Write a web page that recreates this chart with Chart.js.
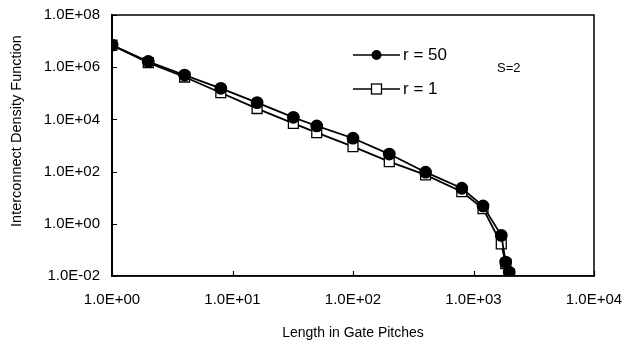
<!DOCTYPE html>
<html>
<head>
<meta charset="utf-8">
<script src="https://cdn.jsdelivr.net/npm/chart.js@4.4.1/dist/chart.umd.min.js"></script>
<style>
html,body{margin:0;padding:0;background:#fff;}
#wrap{width:628px;height:344px;position:relative;}
</style>
</head>
<body>
<div id="wrap"><canvas id="c" width="628" height="344"></canvas></div>
<script>
const lengths = [1, 2, 4, 8, 16, 32, 50, 100, 200, 400, 800, 1200, 1700, 1850, 1980];
const r50 = [7e6, 1.65e6, 5e5, 1.55e5, 4.4e4, 1.2e4, 5.6e3, 1.9e3, 470, 95, 23, 4.8, 0.36, 0.034, 0.014];
const r1  = [7e6, 1.5e6, 4.2e5, 1.05e5, 2.6e4, 7e3, 3.1e3, 900, 240, 75, 17, 3.8, 0.17, 0.03, 0.012];
const seriesLabels = ['r = 50', 'r = 1'];
const xTickValues = [1, 10, 100, 1000, 10000];
const yTickValues = [1e-2, 1, 1e2, 1e4, 1e6, 1e8];
const xTitle = 'Length in Gate Pitches';
const yTitle = 'Interconnect Density Function';
const note = 'S=2';

function fmt(v){
  const e = Math.round(Math.log10(v));
  const s = e < 0 ? '-' : '+';
  const a = Math.abs(e);
  return '1.0E' + s + (a < 10 ? '0' + a : a);
}

const FONT = '"Liberation Sans", Arial, sans-serif';

const decor = {
  id: 'decor',
  afterDraw(chart){
    const ctx = chart.ctx, a = chart.chartArea;
    const xs = chart.scales.x, ys = chart.scales.y;
    ctx.save();
    ctx.strokeStyle = '#000';
    ctx.lineWidth = 1.5;
    ctx.strokeRect(a.left, a.top, a.right - a.left, a.bottom - a.top);
    ctx.lineWidth = 1.2;
    ctx.beginPath();
    xTickValues.forEach(v => {
      const px = Math.round(xs.getPixelForValue(v)) + 0.5;
      ctx.moveTo(px, a.bottom); ctx.lineTo(px, a.bottom - 5);
    });
    yTickValues.forEach(v => {
      const py = Math.round(ys.getPixelForValue(v)) + 0.5;
      ctx.moveTo(a.left, py); ctx.lineTo(a.left + 5, py);
    });
    ctx.stroke();

    // y axis title
    ctx.save();
    ctx.translate(17, 131);
    ctx.rotate(-Math.PI / 2);
    ctx.fillStyle = '#000';
    ctx.font = '14.5px ' + FONT;
    ctx.textAlign = 'center';
    ctx.textBaseline = 'middle';
    ctx.fillText(yTitle, 0, 0);
    ctx.restore();

    // legend
    const lx = 353, lw = 47;
    const rows = [55, 89];
    chart.data.datasets.forEach((ds, i) => {
      const y = rows[i];
      ctx.strokeStyle = '#000';
      ctx.lineWidth = 1.6;
      ctx.beginPath(); ctx.moveTo(lx, y); ctx.lineTo(lx + lw, y); ctx.stroke();
      const cx = lx + lw / 2;
      if (ds.pointStyle === 'circle') {
        ctx.fillStyle = '#000';
        ctx.beginPath(); ctx.arc(cx, y, 5, 0, Math.PI * 2); ctx.fill();
      } else {
        ctx.fillStyle = '#fff';
        ctx.fillRect(cx - 5, y - 5, 10, 10);
        ctx.lineWidth = 1.3;
        ctx.strokeRect(cx - 5, y - 5, 10, 10);
      }
      ctx.fillStyle = '#000';
      ctx.font = '17px ' + FONT;
      ctx.textBaseline = 'middle';
      ctx.textAlign = 'left';
      ctx.fillText(ds.label, lx + lw + 3, y);
    });
    ctx.font = '13px ' + FONT;
    ctx.textBaseline = 'middle';
    ctx.fillText(note, 497, 68);
    ctx.restore();
  }
};

new Chart(document.getElementById('c'), {
  type: 'line',
  data: {
    datasets: [
      {
        label: seriesLabels[0],
        data: lengths.map((x, i) => ({x: x, y: r50[i]})),
        borderColor: '#000', backgroundColor: '#000',
        borderWidth: 1.8,
        pointStyle: 'circle', pointRadius: 5.5,
        pointBackgroundColor: '#000', pointBorderColor: '#000',
        tension: 0
      },
      {
        label: seriesLabels[1],
        data: lengths.map((x, i) => ({x: x, y: r1[i]})),
        borderColor: '#000', backgroundColor: '#fff',
        borderWidth: 1.8,
        pointStyle: 'rect', pointRadius: 7, pointBorderWidth: 1.3,
        pointBackgroundColor: '#fff', pointBorderColor: '#000',
        tension: 0
      }
    ]
  },
  options: {
    responsive: false,
    animation: false,
    events: [],
    layout: {padding: {left: 0, right: 34, top: 15, bottom: 0}},
    plugins: {legend: {display: false}, tooltip: {enabled: false}},
    scales: {
      x: {
        type: 'logarithmic', min: 1, max: 10000,
        afterBuildTicks: s => { s.ticks = xTickValues.map(v => ({value: v})); },
        afterFit: s => { s.height = 68; s.paddingLeft = 0; s.paddingRight = 0; },
        ticks: {callback: v => fmt(v), color: '#000', font: {family: FONT, size: 15}, padding: 15, maxRotation: 0, autoSkip: false},
        grid: {display: false, drawTicks: false},
        border: {display: true, color: '#000', width: 1.5},
        title: {display: true, text: xTitle, color: '#000', font: {family: FONT, size: 14}, padding: {top: 0, bottom: 2}}
      },
      y: {
        type: 'logarithmic', min: 1e-2, max: 1e8,
        afterBuildTicks: s => { s.ticks = yTickValues.map(v => ({value: v})); },
        afterFit: s => { s.width = 112; s.paddingTop = 0; s.paddingBottom = 0; },
        ticks: {callback: v => fmt(v), color: '#000', font: {family: FONT, size: 15}, padding: 12, autoSkip: false},
        grid: {display: false, drawTicks: false},
        border: {display: true, color: '#000', width: 2},
        title: {display: false}
      }
    }
  },
  plugins: [decor]
});
</script>
</body>
</html>
